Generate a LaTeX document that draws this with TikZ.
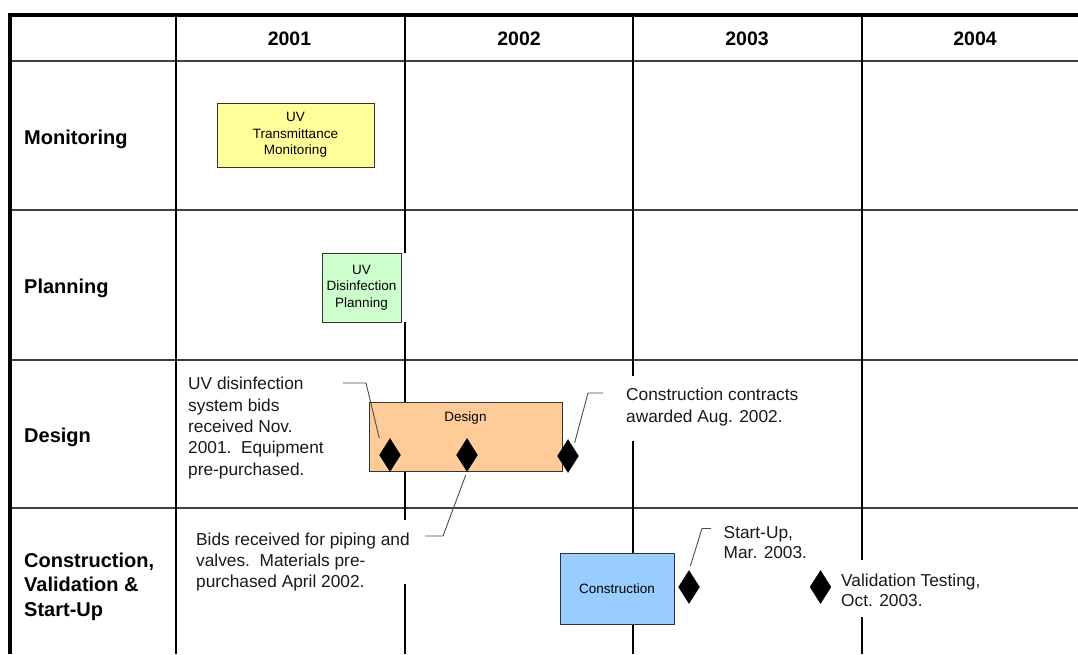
\documentclass[tikz,border=0pt]{standalone}
\usepackage{fontspec}
\setmainfont{Liberation Sans}
\usetikzlibrary{shapes.geometric}
\definecolor{barYellow}{HTML}{FFFF99}
\definecolor{barGreen}{HTML}{CCFFCC}
\definecolor{barOrange}{HTML}{FFCC99}
\definecolor{barBlue}{HTML}{99CCFF}
\begin{document}
\begin{tikzpicture}[x=1pt,y=-1pt,
  hdr/.style={font=\fontsize{19.5}{24.5}\selectfont\bfseries, inner sep=0, anchor=base},
  rowlbl/.style={font=\fontsize{20}{24.5}\selectfont\bfseries, inner sep=0, anchor=west, align=left},
  gridv/.style={draw=black, line width=1.2pt},
  gridh/.style={draw=black!75, line width=1.3pt},
  bar/.style={draw=black!80, line width=1pt, inner sep=0, align=center,
              font=\fontsize{13.5}{16.5}\selectfont},
  note/.style={font=\fontsize{17.3}{21.3}\selectfont, align=left, anchor=west, inner sep=0, text=black!90},
  ms/.style={diamond, fill=black, draw=black, inner sep=0, minimum width=21pt, minimum height=33pt},
  lead/.style={draw=black!70, line width=0.9pt},
  gap/.style={fill=white}
]
\useasboundingbox (0,0) rectangle (1078,654);

% grid
\foreach \yy in {61,210,360,508} { \draw[gridh] (12,\yy) -- (1078,\yy); }
\foreach \xx in {176,405,633,862} { \draw[gridv] (\xx,15) -- (\xx,654); }
\draw[line width=4pt] (10.3,654) -- (10.3,15) -- (1078,15);

% line interruptions
\fill[gap] (399,520) rectangle (411,584);
\fill[gap] (627,376) rectangle (639,441);
\fill[gap] (856,560) rectangle (868,617);
\fill[gap] (402,253) rectangle (411,322);

% headers
\node[hdr] (h1) at (289.5,45) {2001};
\node[hdr] (h2) at (519,45) {2002};
\node[hdr] (h3) at (747,45) {2003};
\node[hdr] (h4) at (975,45) {2004};

% row labels
\node[rowlbl, anchor=base west] (r1) at (24,144) {Monitoring};
\node[rowlbl, anchor=base west] (r2) at (24,293) {Planning};
\node[rowlbl, anchor=base west] (r3) at (24,442) {Design};
\node[rowlbl] (r4) at (24,586.5) {Construction,\\Validation \&\\Start-Up};

% bars
\node[bar, fill=barYellow, minimum width=157pt, minimum height=64pt] (b1) at (295.5,135)
  {UV\\Transmittance\\Monitoring};
\node[bar, fill=barGreen, minimum width=79pt, minimum height=69pt] (b2) at (361.5,287.5)
  {UV\\Disinfection\\Planning};
\node[bar, fill=barOrange, minimum width=193pt, minimum height=69pt,
  label={[font=\fontsize{13.5}{16.5}\selectfont, inner sep=0, anchor=north, yshift=-10.5pt]north:Design}] (b3) at (465.5,436.5) {};
\node[bar, fill=barBlue, minimum width=114pt, minimum height=71pt] (b4) at (617,588.5)
  {Construction};

% notes
\node[note] (n1) at (188,428) {UV disinfection\\system bids\\received Nov.\\2001.\ \ Equipment\\pre-purchased.};
\node[note] (n2) at (196,562) {Bids received for piping and\\valves.\ \ Materials pre-\\purchased April 2002.};
\node[note] (n3) at (626,407) {Construction contracts\\awarded Aug. 2002.};
\node[note, font=\fontsize{17.3}{20.4}\selectfont] (n4) at (723.5,542.7) {Start-Up,\\Mar. 2003.};
\node[note, font=\fontsize{17.3}{20.5}\selectfont] (n5) at (841,590.2) {Validation Testing,\\Oct. 2003.};

% milestones
\node[ms] (d1) at (390,455) {};
\node[ms] (d2) at (467,455) {};
\node[ms] (d3) at (568,456) {};
\node[ms] (d4) at (689,587) {};
\node[ms] (d5) at (820.5,587) {};

% leaders
\coordinate (c1a) at (343,383);
\coordinate (c1b) at (366,383);
\draw[lead] (c1a) -- (c1b) -- (d1.west |- d1.north);
\coordinate (c2a) at (425,536);
\coordinate (c2b) at (443,536);
\draw[lead, shorten >=3.5pt] (c2a) -- (c2b) -- (d2.south);
\coordinate (c3a) at (603,393);
\coordinate (c3b) at (588,393);
\draw[lead, shorten >=5pt] (c3a) -- (c3b) -- (d3.north east);
\coordinate (c4a) at (711,528.5);
\coordinate (c4b) at (702,528.5);
\draw[lead, shorten >=4.5pt] (c4a) -- (c4b) -- (d4.north);
\end{tikzpicture}
\end{document}
